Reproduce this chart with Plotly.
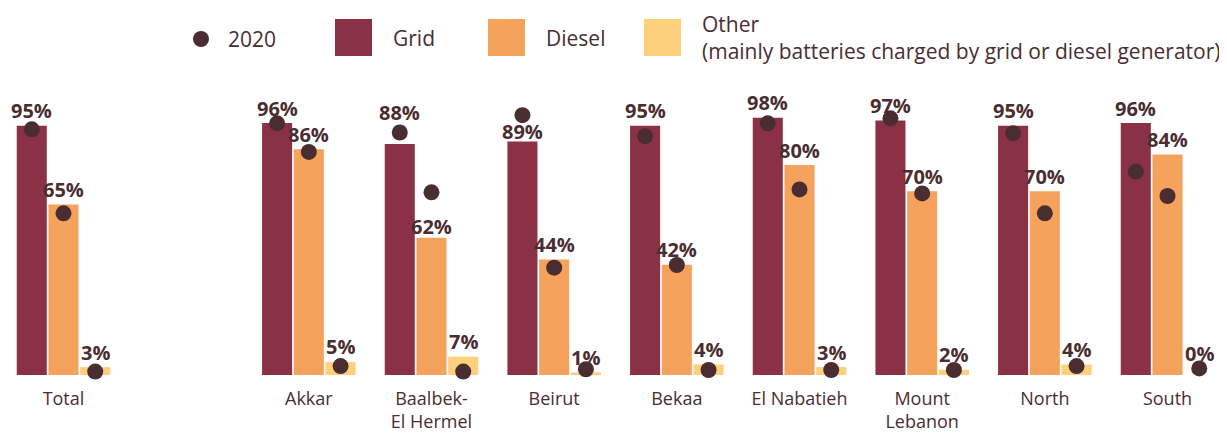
import plotly.graph_objects as go

# ---------------- data ----------------
categories = ["Total", "Akkar", "Baalbek-El Hermel", "Beirut", "Bekaa",
              "El Nabatieh", "Mount Lebanon", "North", "South"]
tick_text = ["Total", "Akkar", "Baalbek-<br>El Hermel", "Beirut", "Bekaa",
             "El Nabatieh", "Mount<br>Lebanon", "North", "South"]
series_names = ["Grid", "Diesel", "Other"]
# bar heights as drawn in the picture
grid = [95, 96, 88, 89, 95, 98, 97, 95, 96]
diesel = [65, 86, 52.3, 44, 42, 80, 70, 70, 84]
other = [3, 5, 7, 1, 4, 3, 2, 4, 0]
# printed value labels
grid_labels = ["95%", "96%", "88%", "89%", "95%", "98%", "97%", "95%", "96%"]
diesel_labels = ["65%", "86%", "62%", "44%", "42%", "80%", "70%", "70%", "84%"]
other_labels = ["3%", "5%", "7%", "1%", "4%", "3%", "2%", "4%", "0%"]
# 2020 values (dots)
grid_2020 = [93.6, 95.9, 92.4, 99.0, 91.0, 95.9, 97.8, 92.1, 77.5]
diesel_2020 = [61.6, 85.0, 69.6, 40.9, 41.9, 70.7, 69.2, 61.6, 68.2]
other_2020 = [1.3, 3.4, 1.3, 2.2, 1.9, 1.9, 1.9, 3.4, 2.5]
dot_name = "2020"
other_legend = "Other<br>(mainly batteries charged by grid or diesel generator)"

# ---------------- style ----------------
colors = ["#8b3146", "#f5a25d", "#fdd07d"]
dark = "#4a2d30"
font_family = "'Open Sans', Lato, sans-serif"
PAGE_OFF = 8                      # default body margin of the html page
W_FIG, H_FIG = 1227 - PAGE_OFF, 433 - PAGE_OFF
M_L, M_R, M_T, M_B = 0, 0, 72, 58
BARGAP, GROUPGAP = 0.224, 0.053
Y_MAX = 112.4
X_RANGE = [-0.4524, 9.485]

# first group, then a blank slot, then the regions
slots = [0] + list(range(2, 2 + len(categories) - 1))
values = [grid, diesel, other]
labels = [grid_labels, diesel_labels, other_labels]
values_2020 = [grid_2020, diesel_2020, other_2020]
n_series = len(series_names)
trace_w = (1 - BARGAP) / n_series
offsets = [(k - (n_series - 1) / 2) * trace_w for k in range(n_series)]

# label nudges (pixels) to avoid the 2020 dots
label_nudge = {(2, 0): 17, (3, 0): -5, (8, 2): 7, (2, 1): -4}

fig = go.Figure()
for k, name in enumerate(series_names):
    fig.add_trace(go.Bar(x=slots, y=values[k], name=name,
                         marker=dict(color=colors[k], line=dict(width=0)),
                         showlegend=False))

# 2020 dots
dot_x, dot_y = [], []
for k in range(n_series):
    for i, s in enumerate(slots):
        dot_x.append(s + offsets[k])
        dot_y.append(values_2020[k][i])
fig.add_trace(go.Scatter(x=dot_x, y=dot_y, mode="markers", name=dot_name,
                         marker=dict(size=16, color=dark, line=dict(width=0)),
                         showlegend=False, cliponaxis=False))

annotations = []
for k in range(n_series):
    for i, s in enumerate(slots):
        annotations.append(dict(
            x=s + offsets[k], y=values[k][i], xref="x", yref="y",
            text=f"<b>{labels[k][i]}</b>", showarrow=False, yanchor="middle",
            xanchor="center", yshift=15 + label_nudge.get((i, k), 0),
            font=dict(family=font_family, size=20, color=dark)))

# ---------------- custom legend (screen pixel -> paper) ----------------
plot_w = W_FIG - M_L - M_R
plot_h = H_FIG - M_T - M_B
def px(xs):
    return (xs - PAGE_OFF - M_L) / plot_w
def py(ys):
    return (H_FIG - M_B - (ys - PAGE_OFF)) / plot_h

shapes = []
shapes.append(dict(type="circle", xref="paper", yref="paper",
                   x0=px(193), x1=px(209), y0=py(47), y1=py(31),
                   fillcolor=dark, line=dict(width=0)))
annotations.append(dict(x=px(226), y=py(39), xref="paper", yref="paper",
                        text=dot_name, showarrow=False, xanchor="left",
                        yanchor="middle",
                        font=dict(family=font_family, size=21, color=dark)))
sq_left = [335, 488, 644]
txt_left = [391, 544, 700]
leg_text = [series_names[0], series_names[1], other_legend]
for k in range(n_series):
    shapes.append(dict(type="rect", xref="paper", yref="paper",
                       x0=px(sq_left[k]), x1=px(sq_left[k] + 37),
                       y0=py(56), y1=py(19),
                       fillcolor=colors[k], line=dict(width=0)))
    annotations.append(dict(x=px(txt_left[k]), y=py(38 if k < 2 else 37),
                            xref="paper", yref="paper",
                            text=leg_text[k], showarrow=False,
                            xanchor="left", yanchor="middle", align="left",
                            font=dict(family=font_family, size=21, color=dark)))

fig.update_layout(
    width=W_FIG, height=H_FIG,
    margin=dict(l=M_L, r=M_R, t=M_T, b=M_B),
    barmode="group", bargap=BARGAP, bargroupgap=GROUPGAP,
    plot_bgcolor="white", paper_bgcolor="white",
    showlegend=False,
    shapes=shapes, annotations=annotations,
    font=dict(family=font_family, color=dark),
)
fig.update_xaxes(range=X_RANGE, tickvals=slots, ticktext=tick_text,
                 automargin=False,
                 showgrid=False, zeroline=False, showline=False, ticks="",
                 ticklabelstandoff=11,
                 tickfont=dict(family=font_family, size=18, color=dark))
fig.update_yaxes(range=[0, Y_MAX], visible=False, automargin=False)

fig.write_html("out.html")
